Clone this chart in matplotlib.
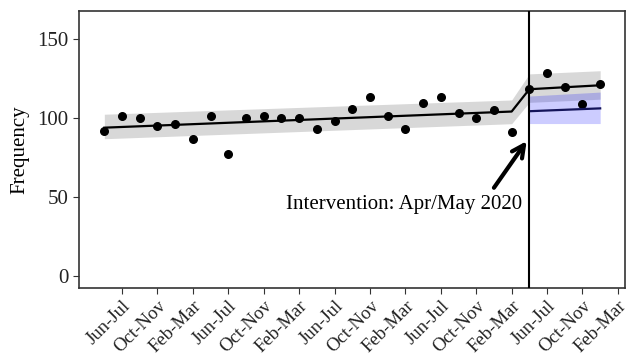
import matplotlib.pyplot as plt
import numpy as np

plt.rcParams["font.family"] = ["Liberation Serif", "DejaVu Serif"]

# bimonthly periods, index 0 = Apr-May 2016, index 24 = Apr-May 2020 (intervention)
period = np.arange(29)
freq = [92, 101.5, 100, 95.3, 96.4, 87.1, 101.5, 77.2, 100, 101.5,
        100.1, 100.4, 93.2, 98.1, 105.6, 113.2, 101.5, 93.2, 109.4, 113.2,
        103.5, 100.2, 105.4, 91.3, 118.2, 128.4, 119.5, 109.2, 121.3]

tick_pos = np.arange(1, 30, 2)
tick_labels = ["Jun-Jul", "Oct-Nov", "Feb-Mar"] * 5

# fitted segmented regression (key points) and confidence band
fit_x = [0, 23, 24, 28]
fit_y = [94, 104.2, 118.3, 120.8]
fit_lo = [87, 96.5, 110, 112]
fit_hi = [102.5, 111.5, 128, 130]

# counterfactual (no intervention)
cf_x = [24, 28]
cf_y = [104.4, 106.2]
cf_lo = [96.6, 96.6]
cf_hi = [114, 116.5]

intervention = 24

fig = plt.figure(figsize=(6.29, 3.64), dpi=100)
ax = fig.add_axes([0.1256, 0.209, 0.868, 0.761])

ax.scatter(period, freq, s=30, color="black", zorder=3)
ax.fill_between(fit_x, fit_lo, fit_hi, color="grey", alpha=0.3, lw=0, zorder=2)
ax.plot(fit_x, fit_y, color="black", lw=1.6, zorder=4)
ax.fill_between(cf_x, cf_lo, cf_hi, color="blue", alpha=0.2, lw=0, zorder=2)
ax.plot(cf_x, cf_y, color="#14145a", lw=1.6, zorder=4)
ax.axvline(intervention, color="black", lw=1.5, zorder=5)

ax.annotate("", xy=(23.85, 85.5), xytext=(22.0, 56),
            arrowprops=dict(arrowstyle="->", lw=3, color="black",
                            mutation_scale=22, shrinkA=0, shrinkB=0))
ax.text(23.6, 45.5, "Intervention: Apr/May 2020", ha="right", va="center",
        fontsize=15)

ax.set_xlim(-1.43, 29.4)
ax.set_ylim(-7.3, 167.8)
ax.set_yticks([0, 50, 100, 150])
ax.set_xticks(tick_pos)
ax.set_xticklabels(tick_labels, rotation=45, ha="right", rotation_mode="anchor")
ax.tick_params(labelsize=15, length=4, color="#333333", labelcolor="#222222")
ax.tick_params(axis="x", labelsize=13.5, pad=3)
ax.set_ylabel("Frequency", fontsize=15, labelpad=6)
for s in ax.spines.values():
    s.set_color("#333333")
    s.set_linewidth(1.2)

plt.savefig("out.png", dpi=100)
